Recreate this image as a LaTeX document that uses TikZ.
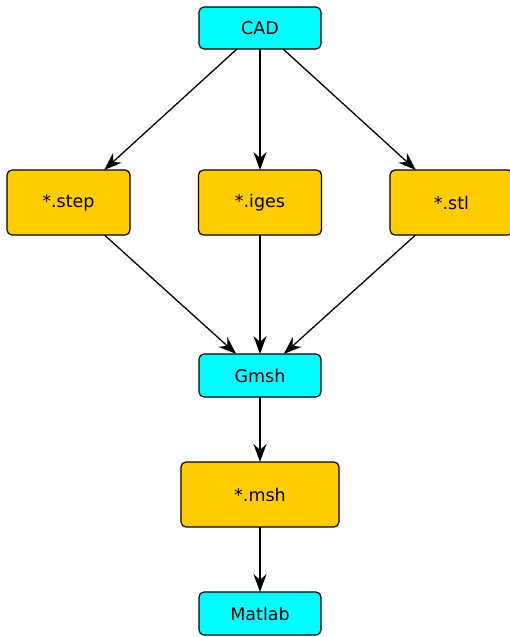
\documentclass[tikz,border=0pt]{standalone}
\usepackage{fontspec}
\setmainfont{DejaVu Sans}
\usetikzlibrary{arrows.meta}

\definecolor{boxcyan}{RGB}{0,255,255}
\definecolor{boxgold}{RGB}{255,204,0}

\begin{document}
\begin{tikzpicture}[x=1pt, y=-1pt,
  tool/.style={draw=black, line width=1.2pt, rounded corners=5pt, fill=boxcyan,
    minimum width=122pt, minimum height=42pt, inner sep=0pt, outer sep=0pt,
    font=\fontsize{17.5}{21}\selectfont},
  format/.style={tool, fill=boxgold, minimum width=123pt, minimum height=65pt},
  flow/.style={draw=black, line width=1.3pt, -{Stealth[length=18pt, width=13pt, inset=6pt]}}]
  \useasboundingbox (0,0) rectangle (509,637);
  % programs
  \node[tool] (cad) at (260,28) {CAD};
  \node[tool, minimum height=43pt] (gmsh) at (260,375.5) {Gmsh};
  \node[tool, minimum height=43pt] (matlab) at (260,613.5) {Matlab};
  % file formats
  \node[format] (step) at (68.5,202.5) {*.step};
  \node[format] (iges) at (260,202.5) {*.iges};
  \node[format] (stl) at (451.5,202.5) {*.stl};
  \node[format, minimum width=158pt] (msh) at (260,494.5) {*.msh};
  % connectors
  \draw[flow] (cad) -- (step);
  \draw[flow] (cad) -- (iges);
  \draw[flow] (cad) -- (stl);
  \draw[flow] (step) -- (gmsh);
  \draw[flow] (iges) -- (gmsh);
  \draw[flow] (stl) -- (gmsh);
  \draw[flow] (gmsh) -- (msh);
  \draw[flow] (msh) -- (matlab);
\end{tikzpicture}
\end{document}
